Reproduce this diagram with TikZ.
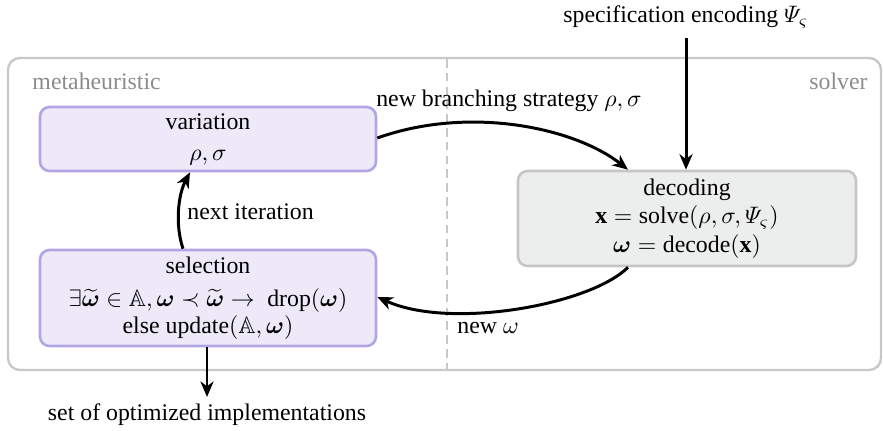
\documentclass[tikz,border=0pt]{standalone}
\usepackage{amsmath}
\usepackage{amssymb}
\usepackage{fontspec}
\setmainfont{Liberation Serif}
\usetikzlibrary{arrows.meta}

\definecolor{metafill}{HTML}{EDE9F9}
\definecolor{metaline}{HTML}{B3A5E3}
\definecolor{solvfill}{HTML}{ECEDED}
\definecolor{solvline}{HTML}{C6C6C6}
\definecolor{framegray}{HTML}{C8C8C8}
\definecolor{labelgray}{HTML}{8C8C8C}

\tikzset{
  metabox/.style={draw=metaline, fill=metafill, line width=1.1pt,
    rounded corners=4pt, align=center, inner sep=0pt},
  solvbox/.style={draw=solvline, fill=solvfill, line width=1.1pt,
    rounded corners=4pt, align=center, inner sep=0pt},
  flow/.style={line width=1.25pt, -{Stealth[length=6.5pt,width=5.5pt,inset=2pt]}},
  region/.style={text=labelgray, inner sep=0pt},
}

\begin{document}
\begin{tikzpicture}[x=0.42pt, y=-0.42pt]
  \useasboundingbox (0,0) rectangle (883,431);

  % outer frame and separator between the two parts
  \draw[framegray, line width=1pt, rounded corners=5pt] (8,58) rectangle (881,370);
  \draw[framegray, line width=1.1pt, dash pattern=on 3.6pt off 2.2pt] (447,59) -- (447,369);
  \node[region, anchor=base west] (meta) at (32,90) {metaheuristic};
  \node[region, anchor=base east] (solv) at (868,90) {solver};

  % process steps
  \node[metabox, minimum width={336*0.42pt}, minimum height={64*0.42pt}] (var) at (208,139)
    {variation\\[1pt] $\rho,\sigma$};
  \node[metabox, minimum width={336*0.42pt}, minimum height={96*0.42pt}] (sel) at (208,298)
    {selection\\[2pt] $\exists\widetilde{\boldsymbol{\omega}}\in\mathbb{A},\boldsymbol{\omega}\prec\widetilde{\boldsymbol{\omega}}\to\ \mathrm{drop}(\boldsymbol{\omega})$\\[-1pt] else update$(\mathbb{A},\boldsymbol{\omega})$};
  \node[solvbox, minimum width={338*0.42pt}, minimum height={95*0.42pt}] (dec) at (687,218.5)
    {decoding\\ $\mathbf{x}=\mathrm{solve}(\rho,\sigma,\varPsi_{\varsigma})$\\ $\boldsymbol{\omega}=\mathrm{decode}(\mathbf{x})$};

  % inputs and outputs
  \node (spec) at (686,17) {specification encoding $\varPsi_{\varsigma}$};
  \coordinate (specin) at (686,38);
  \node (out) at (207,415) {set of optimized implementations};
  \coordinate (outend) at (207,397);

  % connectors
  \draw[flow] (var.east |- 0,138) .. controls (470,105) and (575,128) .. (dec.north -| 628,0);
  \node (lbranch) at (509,101) {new branching strategy $\rho,\sigma$};
  \draw[flow] (specin) -- (dec.north -| specin);
  \draw[flow] (dec.south -| 628,0) .. controls (590,305) and (450,330) .. (sel.east |- 0,297);
  \node[anchor=west, inner sep=0pt] (lnew) at (457,328) {new $\omega$};
  \draw[flow] (sel.north -| 183,0) .. controls (175,225) and (178,195) .. (var.south -| 190,0);
  \node[anchor=west, inner sep=0pt] (lnext) at (187,212) {next iteration};
  \draw[flow] (sel.south -| outend) -- (outend);
\end{tikzpicture}
\end{document}
